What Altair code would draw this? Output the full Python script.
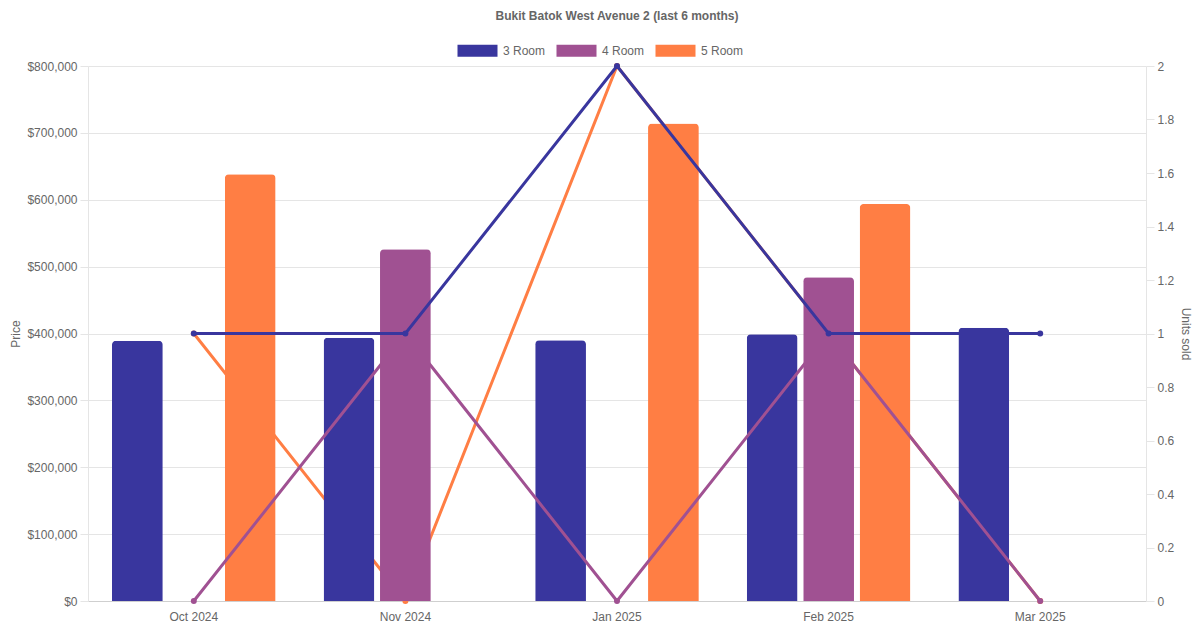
import altair as alt
import pandas as pd

months = ["Oct 2024", "Nov 2024", "Jan 2025", "Feb 2025", "Mar 2025"]
room_types = ["3 Room", "4 Room", "5 Room"]
colors = ["#39369e", "#a05192", "#ff7e44"]

# median price (None = no bar)
price_3 = [389000, 393500, 390000, 399000, 408700]
price_4 = [None, 526000, None, 484000, None]
price_5 = [638000, None, 714000, 593500, None]

# units sold
units_3 = [1, 1, 2, 1, 1]
units_4 = [0, 1, 0, 1, 0]
units_5 = [1, 0, 2, 1, 0]

price_ticks = [0, 100000, 200000, 300000, 400000, 500000, 600000, 700000, 800000]
unit_ticks = [0, 0.2, 0.4, 0.6, 0.8, 1, 1.2, 1.4, 1.6, 1.8, 2]

rows = []
for t, prices, units in zip(room_types, [price_3, price_4, price_5], [units_3, units_4, units_5]):
    for m, p, u in zip(months, prices, units):
        rows.append({"month": m, "type": t, "price": p, "units": u})
df = pd.DataFrame(rows)
bars_df = df[df["price"].notna()]
color_of = dict(zip(room_types, colors))

FONT = "Liberation Sans"
TXT = "#666666"
GRID = "#e5e5e5"

x_enc = alt.X("month:N", sort=months, title=None,
              scale=alt.Scale(paddingInner=0.2, paddingOuter=0.1),
              axis=alt.Axis(labelAngle=0, ticks=False, grid=False, labelPadding=10,
                            domainColor="#cfcfcf", labelColor=TXT, labelFontSize=12,
                            labelFont=FONT))
xoff_enc = alt.XOffset("type:N", scale=alt.Scale(domain=room_types, paddingInner=0.1, paddingOuter=0.05))
color_scale = alt.Scale(domain=room_types, range=colors)

left_axis = alt.Axis(values=price_ticks, format="$,.0f", title="Price", grid=True, gridColor=GRID,
                     tickColor=GRID, tickSize=8, labelPadding=3, domainColor=GRID,
                     labelColor=TXT, labelFontSize=12, labelFont=FONT, titleColor=TXT,
                     titleFontSize=12, titleFontWeight="normal", titleFont=FONT, titlePadding=4)
right_axis = alt.Axis(values=unit_ticks, format="~g", title="Units sold", orient="right", grid=False,
                      tickColor=GRID, tickSize=8, labelPadding=3, domainColor=GRID,
                      labelColor=TXT, labelFontSize=12, labelFont=FONT, titleColor=TXT,
                      titleFontSize=12, titleFontWeight="normal", titleFont=FONT, titlePadding=5)

price_scale = alt.Scale(domain=[0, 800000], nice=False)
unit_scale = alt.Scale(domain=[0, 2], nice=False)

legend = alt.Legend(title=None, orient="none", legendX=369, legendY=-36, direction="horizontal",
                    symbolType="M-1,-0.3H1V0.3H-1Z", symbolSize=1600, symbolStrokeWidth=1,
                    labelOffset=5, columnPadding=10, padding=0, labelFontSize=12,
                    labelColor=TXT, labelFont=FONT)

def line_layer(t, axis):
    c = color_of[t]
    return alt.Chart(df[df["type"] == t]).mark_line(
        strokeWidth=3, color=c, point=alt.OverlayMarkDef(size=36, filled=True, color=c)
    ).encode(
        x=x_enc,
        y=alt.Y("units:Q", scale=unit_scale, axis=axis),
    )

def bar_layer(types, axis):
    return alt.Chart(bars_df[bars_df["type"].isin(types)]).mark_bar(
        cornerRadiusTopLeft=4, cornerRadiusTopRight=4
    ).encode(
        x=x_enc,
        xOffset=xoff_enc,
        y=alt.Y("price:Q", scale=price_scale, axis=axis),
        fill=alt.Fill("type:N", scale=color_scale, legend=legend),
    )

chart = alt.layer(
    line_layer("5 Room", None),
    bar_layer(["3 Room", "5 Room"], left_axis),
    line_layer("4 Room", None),
    bar_layer(["4 Room"], None),
    line_layer("3 Room", right_axis),
).resolve_scale(y="independent").properties(
    width=1058, height=535,
    autosize=alt.AutoSizeParams(type="none"),
    padding={"left": 80, "top": 58, "right": 46, "bottom": 21},
    title=alt.Title("Bukit Batok West Avenue 2 (last 6 months)", fontSize=12, fontWeight="bold",
                    color=TXT, font=FONT, anchor="middle", offset=7),
).configure_view(stroke=None)

chart.save("out.html", embed_options={"renderer": "svg", "actions": False})
